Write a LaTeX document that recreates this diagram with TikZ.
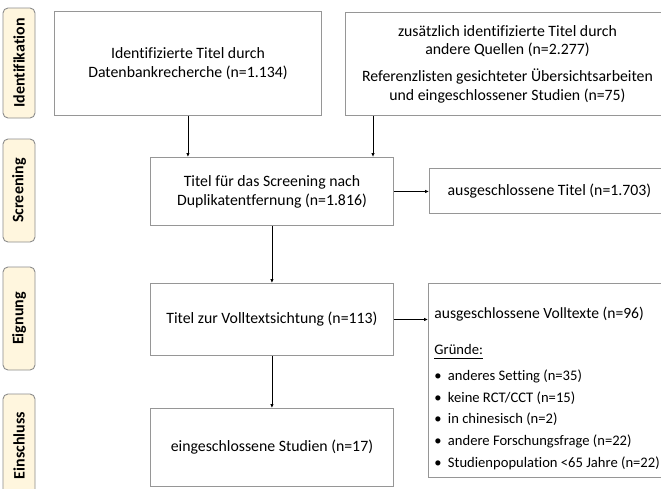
\documentclass[tikz,border=0pt]{standalone}
\usepackage{fontspec}
\setmainfont{Carlito}[Ligatures={NoCommon}]
\usetikzlibrary{arrows.meta,calc}
\definecolor{boxgray}{RGB}{150,150,150}
\definecolor{labelfill}{RGB}{255,246,222}
\definecolor{labelgray}{RGB}{140,140,140}
\newcommand{\bulletitem}{\makebox[13.5pt][l]{\textbullet}}
\tikzset{
  flowbox/.style={draw=boxgray, line width=0.9pt, fill=white, inner sep=0pt, align=flush center,
    font=\fontsize{15.8}{19}\selectfont},
  phaselabel/.style={draw=labelgray, line width=0.9pt, fill=labelfill, rounded corners=5pt,
    rotate=90, minimum height=32, inner sep=0pt, font=\fontsize{16}{19}\selectfont\bfseries},
  flowarrow/.style={draw=black, line width=0.8pt, -{Latex[length=4pt,width=3.5pt]}}
}
\begin{document}
\begin{tikzpicture}[x=1pt,y=-1pt]
\useasboundingbox (0,0) rectangle (661,488);
\clip (0,0) rectangle (661,488);
% phase labels
\node[phaselabel, minimum width=110] (lid) at (19,63) {Identifikation};
\node[phaselabel, minimum width=103] (lsc) at (19,190.5) {Screening};
\node[phaselabel, minimum width=103] (lei) at (19,318.5) {Eignung};
\node[phaselabel, minimum width=103] (les) at (19,445.5) {Einschluss};
% boxes
\node[flowbox, anchor=north west, minimum width=267, minimum height=104] (b1) at (54,11)
  {Identifizierte Titel durch\\Datenbankrecherche (n=1.134)};
\node[flowbox, anchor=north west, minimum width=324, minimum height=103,
  font=\fontsize{15.8}{18.5}\selectfont] (b2) at (345,12)
  {zusätzlich identifizierte Titel durch\\andere Quellen (n=2.277)\\[8.5pt]
   Referenzlisten gesichteter Übersichtsarbeiten\\und eingeschlossener Studien (n=75)};
\node[flowbox, anchor=north west, minimum width=243, minimum height=68] (b3) at (150,157)
  {Titel für das Screening nach\\Duplikatentfernung (n=1.816)};
\node[flowbox, anchor=north west, minimum width=240, minimum height=45] (b4) at (429,168)
  {ausgeschlossene Titel (n=1.703)};
\node[flowbox, anchor=north west, minimum width=243, minimum height=72] (b5) at (150,283)
  {Titel zur Volltextsichtung (n=113)};
\node[flowbox, anchor=north west, minimum width=241, minimum height=194, inner xsep=6pt] (b6) at (428,283)
  {\parbox[c][182pt][t]{229pt}{\raggedright\fontsize{15.6}{21.7}\selectfont
   \rule{0pt}{29pt}ausgeschlossene Volltexte (n=96)\par\vspace{13.8pt}
   \fontsize{14.6}{21.8}\selectfont
   \underline{Gründe:\vphantom{g}}\par\vspace{4.5pt}
   \mbox{\bulletitem anderes Setting (n=35)}\par
   \mbox{\bulletitem keine RCT/CCT (n=15)}\par
   \mbox{\bulletitem in chinesisch (n=2)}\par
   \mbox{\bulletitem andere Forschungsfrage (n=22)}\par
   \mbox{\bulletitem Studienpopulation <65 Jahre (n=22)}\par}};
\node[flowbox, anchor=north west, minimum width=243, minimum height=78] (b7) at (150,408)
  {eingeschlossene Studien (n=17)};
% connectors
\draw[flowarrow] (b1.south) -- (b1.south |- b3.north);
\coordinate (b2out) at ($(b2.south west)+(28,0)$);
\draw[flowarrow] (b2out) -- (b2out |- b3.north);
\draw[flowarrow] (b3.east) -- (b4.west |- b3.east);
\draw[flowarrow] (b3.south) -- (b5.north);
\draw[flowarrow] (b5.east) -- (b6.west |- b5.east);
\draw[flowarrow] (b5.south) -- (b7.north);
\end{tikzpicture}
\end{document}
